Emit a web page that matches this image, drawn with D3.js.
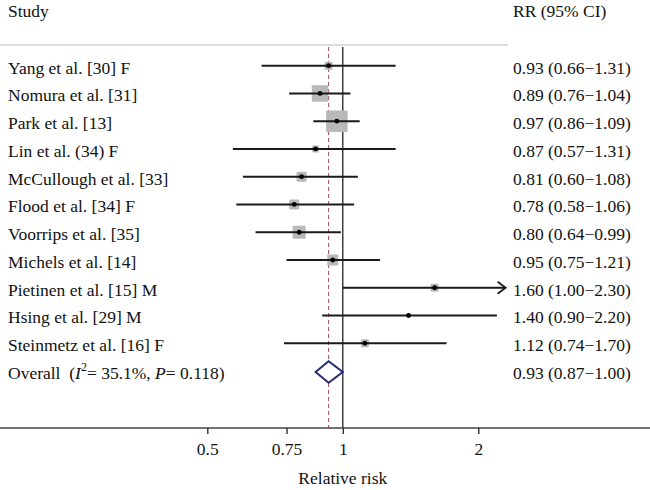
<!DOCTYPE html>
<html>
<head>
<meta charset="utf-8">
<script src="https://cdn.jsdelivr.net/npm/d3@7"></script>
<style>
  html, body { margin: 0; padding: 0; background: #fff; }
  svg { display: block; }
  text { font-family: "Liberation Serif", "Times New Roman", serif; fill: #111; }
</style>
</head>
<body>
<svg id="chart" width="650" height="490"></svg>
<script>
// ---- data ----
const studies = [
  "Yang et al. [30] F",
  "Nomura et al. [31]",
  "Park et al. [13]",
  "Lin et al. (34) F",
  "McCullough et al. [33]",
  "Flood et al. [34] F",
  "Voorrips et al. [35]",
  "Michels et al. [14]",
  "Pietinen et al. [15] M",
  "Hsing et al. [29] M",
  "Steinmetz et al. [16] F"
];
const rr     = [0.93, 0.89, 0.97, 0.87, 0.81, 0.78, 0.80, 0.95, 1.60, 1.40, 1.12];
const lower  = [0.66, 0.76, 0.86, 0.57, 0.60, 0.58, 0.64, 0.75, 1.00, 0.90, 0.74];
const upper  = [1.31, 1.04, 1.09, 1.31, 1.08, 1.06, 0.99, 1.21, 2.30, 2.20, 1.70];
const weights = [4.3, 18.4, 31.2, 3.3, 6.8, 6.8, 11.4, 8.2, 4.3, 1.1, 4.3];
const ciLabels = [
  "0.93 (0.66\u22121.31)",
  "0.89 (0.76\u22121.04)",
  "0.97 (0.86\u22121.09)",
  "0.87 (0.57\u22121.31)",
  "0.81 (0.60\u22121.08)",
  "0.78 (0.58\u22121.06)",
  "0.80 (0.64\u22120.99)",
  "0.95 (0.75\u22121.21)",
  "1.60 (1.00\u22122.30)",
  "1.40 (0.90\u22122.20)",
  "1.12 (0.74\u22121.70)"
];
const overallRR = 0.93, overallLower = 0.87, overallUpper = 1.00;
const overallLabel = "0.93 (0.87\u22121.00)";
const xTicks = [0.5, 0.75, 1, 2];
const xTickLabels = ["0.5", "0.75", "1", "2"];
const arrowStudies = ["Pietinen et al. [15] M"];

// ---- layout ----
const svg = d3.select("#chart");
const rows = studies.concat(["Overall"]);
const x = d3.scaleLog().domain([0.5, 2]).range([207.3, 478.3]);
const y = d3.scalePoint().domain(rows).range([65.7, 371]);
const size = d3.scaleSqrt().domain([0, d3.max(weights)]).range([0, 21.5]);
const fs = 17.5;
const topY = 45, axisY = 428;

const data = studies.map((s, i) => ({study: s, rr: rr[i], lo: lower[i], hi: upper[i], w: weights[i], lab: ciLabels[i]}));

// header
svg.append("text").attr("x", 8).attr("y", 17).attr("font-size", fs).text("Study");
svg.append("text").attr("x", 513).attr("y", 17).attr("font-size", fs).text("RR (95% CI)");
svg.append("line").attr("x1", 0).attr("x2", 508).attr("y1", topY).attr("y2", topY)
  .attr("stroke", "#d2d2d2").attr("stroke-width", 1.5);

// reference lines
svg.append("line").attr("x1", x(1)).attr("x2", x(1)).attr("y1", topY + 2).attr("y2", axisY)
  .attr("stroke", "#111").attr("stroke-width", 1.2);
svg.append("line").attr("x1", x(overallRR)).attr("x2", x(overallRR)).attr("y1", topY + 2).attr("y2", axisY)
  .attr("stroke", "#a04a5c").attr("stroke-width", 1).attr("stroke-dasharray", "4,3");

// squares
const g = svg.append("g");
g.selectAll("rect.w").data(data).join("rect").attr("class", "w")
  .attr("x", d => x(d.rr) - size(d.w) / 2)
  .attr("y", d => y(d.study) - size(d.w) / 2)
  .attr("width", d => size(d.w)).attr("height", d => size(d.w))
  .attr("fill", "#b9b9b9").attr("rx", 1);

// CI lines
g.selectAll("line.ci").data(data).join("line").attr("class", "ci")
  .attr("x1", d => x(d.lo)).attr("x2", d => x(d.hi))
  .attr("y1", d => y(d.study)).attr("y2", d => y(d.study))
  .attr("stroke", "#1a1a1a").attr("stroke-width", 2);

// arrows
g.selectAll("path.arrow").data(data.filter(d => arrowStudies.includes(d.study))).join("path")
  .attr("class", "arrow")
  .attr("d", d => `M${x(d.hi) - 8},${y(d.study) - 6}L${x(d.hi)},${y(d.study)}L${x(d.hi) - 8},${y(d.study) + 6}`)
  .attr("fill", "none").attr("stroke", "#1a1a1a").attr("stroke-width", 1.8);

// point estimates
g.selectAll("circle.pt").data(data).join("circle").attr("class", "pt")
  .attr("cx", d => x(d.rr)).attr("cy", d => y(d.study)).attr("r", 2.4)
  .attr("fill", "#000");

// overall diamond
const oy = y("Overall") + 1;
svg.append("path")
  .attr("d", `M${x(overallLower)},${oy}L${x(overallRR)},${oy - 10.8}L${x(overallUpper)},${oy}L${x(overallRR)},${oy + 10.8}Z`)
  .attr("fill", "#fff").attr("stroke", "#2a2a74").attr("stroke-width", 2);

// labels
svg.selectAll("text.study").data(data).join("text").attr("class", "study")
  .attr("x", 8).attr("y", d => y(d.study) + 8).attr("font-size", fs).text(d => d.study);
svg.selectAll("text.ci").data(data).join("text").attr("class", "ci")
  .attr("x", 513).attr("y", d => y(d.study) + 8).attr("font-size", fs).text(d => d.lab);

const ov = svg.append("text").attr("x", 8).attr("y", y("Overall") + 8).attr("font-size", fs)
  .attr("xml:space", "preserve").style("white-space", "pre");
ov.append("tspan").text("Overall  (");
ov.append("tspan").attr("font-style", "italic").text("I");
ov.append("tspan").attr("font-size", 12).attr("dy", -8).text("2");
ov.append("tspan").attr("dy", 8).text("= 35.1%, ");
ov.append("tspan").attr("font-style", "italic").text("P");
ov.append("tspan").text("= 0.118)");
svg.append("text").attr("x", 513).attr("y", y("Overall") + 8).attr("font-size", fs).text(overallLabel);

// axis
svg.append("line").attr("x1", 0).attr("x2", 650).attr("y1", axisY).attr("y2", axisY)
  .attr("stroke", "#444").attr("stroke-width", 1.5);
const ax = svg.append("g").attr("transform", `translate(0,${axisY})`)
  .call(d3.axisBottom(x).tickValues(xTicks).tickFormat((d, i) => xTickLabels[i]).tickSize(6));
ax.select(".domain").remove();
ax.selectAll(".tick line").attr("stroke", "#222").attr("stroke-width", 1.3);
ax.selectAll(".tick text").attr("y", 27).attr("dy", 0)
  .attr("font-size", fs).attr("font-family", "Liberation Serif, serif").attr("fill", "#111");
svg.append("text").attr("x", x(1)).attr("y", 484).attr("text-anchor", "middle")
  .attr("font-size", fs).text("Relative risk");
</script>
</body>
</html>
